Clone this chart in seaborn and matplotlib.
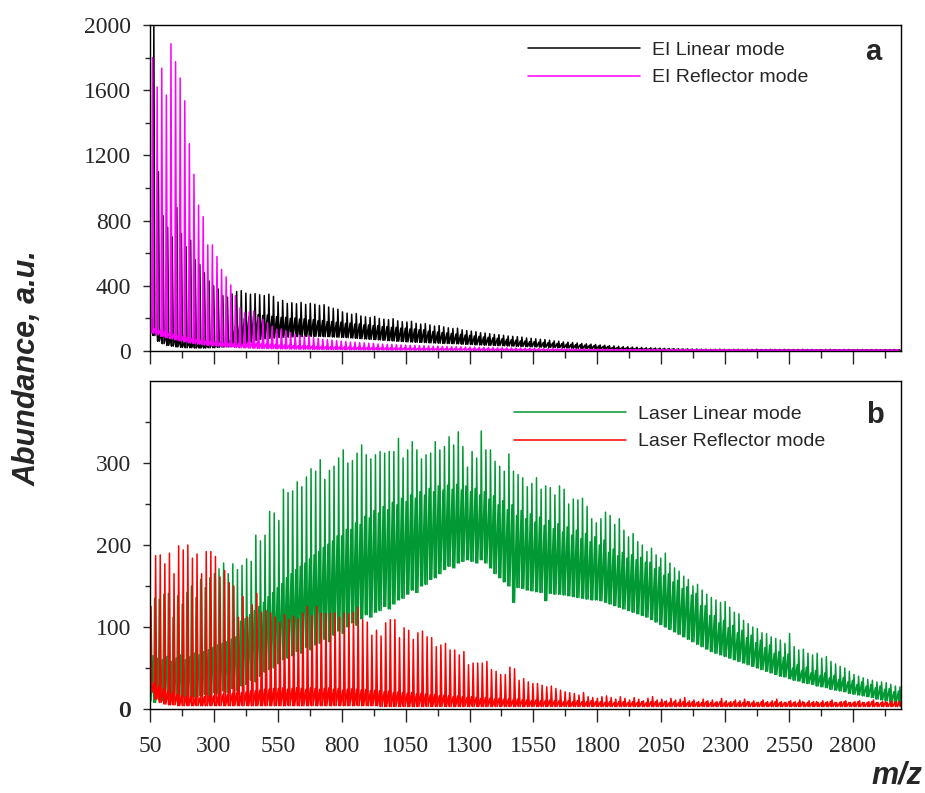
import matplotlib
matplotlib.use("Agg")
import matplotlib.pyplot as plt
import seaborn as sns

# Water cluster peaks, one value per cluster (spacing 18 m/z)
SPACING = 18

# Panel a - EI, linear mode (black)
ei_lin_first = 65
ei_lin_peak = [
    1990, 1100, 830, 760, 700, 880, 720, 640, 680, 560, 530, 480, 430, 400, 380, 340, 330, 350, 365, 370,
    355, 348, 352, 345, 340, 348, 335, 300, 310, 292, 296, 290, 298, 286, 292, 287, 280, 284, 270, 262,
    256, 240, 232, 225, 230, 215, 210, 206, 212, 200, 195, 192, 198, 185, 180, 178, 182, 170, 165, 168,
    160, 153, 156, 148, 142, 138, 140, 130, 125, 122, 118, 112, 110, 106, 102, 100, 96, 92, 90, 88,
    85, 80, 78, 74, 72, 70, 66, 62, 60, 56, 54, 52, 49, 46, 44, 42, 40, 37, 35, 33,
    31, 29, 27, 26, 24, 23, 22, 20, 19, 18, 17, 16, 15, 15, 14, 13, 13, 12, 12, 11,
    11, 10, 10, 11, 10, 9, 10, 10, 9, 10, 9, 10, 9, 9, 10, 9, 9, 10, 9, 9,
    9, 10, 9, 9, 8, 9, 9, 10, 9, 8, 9, 9, 8, 9, 9, 8, 9, 9, 8, 9,
    8, 9, 8]
ei_lin_mid = [
    200, 150, 120, 100, 90, 80, 70, 60, 55, 50, 45, 45, 45, 48, 50, 55, 60, 70, 150, 170,
    200, 210, 216, 222, 218, 220, 213, 211, 206, 207, 200, 202, 196, 197, 190, 192, 185, 187, 180, 181,
    176, 177, 170, 171, 165, 166, 160, 160, 155, 155, 150, 150, 145, 145, 140, 140, 135, 135, 130, 130,
    122, 120, 116, 114, 110, 108, 104, 102, 98, 96, 92, 90, 86, 84, 80, 78, 74, 72, 68, 66,
    62, 61, 58, 57, 54, 53, 50, 49, 46, 45, 42, 41, 39, 38, 36, 35, 33, 31, 29, 28,
    21, 20, 19, 18, 17, 16, 15, 14, 13, 13, 12, 12, 11, 11, 10, 10, 10, 9, 9, 9,
    8, 8, 8, 8, 8, 8, 8, 8, 8, 8, 8, 8, 8, 8, 8, 8, 8, 8, 8, 8,
    7, 7, 7, 7, 7, 7, 7, 7, 7, 7, 7, 7, 7, 7, 7, 7, 7, 7, 7, 7,
    7, 7, 7]
ei_lin_floor = [
    95, 60, 45, 35, 30, 25, 22, 20, 20, 18, 18, 18, 20, 20, 22, 24, 26, 28, 30, 35,
    45, 55, 65, 72, 75, 78, 80, 82, 84, 85, 86, 88, 88, 90, 90, 90, 90, 88, 88, 86,
    85, 84, 82, 80, 78, 76, 74, 72, 70, 68, 66, 64, 62, 60, 58, 56, 55, 54, 53, 52,
    50, 49, 48, 47, 46, 45, 44, 42, 41, 40, 38, 37, 36, 35, 34, 33, 32, 31, 30, 29,
    28, 27, 26, 25, 24, 23, 22, 21, 20, 19, 18, 17, 16, 15, 14, 13, 12, 12, 11, 11,
    10, 10, 9, 9, 8, 8, 8, 7, 7, 7, 6, 6, 6, 6, 5, 5, 5, 5, 5, 5,
    5, 5, 5, 5, 5, 5, 5, 5, 5, 5, 5, 5, 5, 5, 5, 5, 5, 5, 5, 5,
    4, 4, 4, 4, 4, 4, 4, 4, 4, 4, 4, 4, 4, 4, 4, 4, 4, 4, 4, 4,
    4, 4, 4]

# Panel a - EI, reflector mode (magenta)
ei_ref_first = 60
ei_ref_peak = [
    1800, 1620, 1735, 1570, 1885, 1775, 1675, 1535, 1272, 1084, 895, 824, 651, 651, 580, 500, 455, 405, 340, 265,
    234, 240, 245, 207, 194, 174, 153, 133, 135, 123, 113, 102, 96, 92, 94, 82, 78, 72, 70, 66,
    64, 60, 58, 55, 54, 51, 50, 48, 46, 43, 42, 41, 40, 38, 37, 36, 35, 34, 33, 32,
    31, 30, 30, 29, 28, 27, 27, 26, 25, 24, 24, 23, 22, 22, 21, 20, 20, 19, 19, 18,
    18, 17, 17, 16, 16, 15, 15, 15, 14, 14, 13, 13, 13, 12, 12, 12, 12, 11, 11, 11,
    11, 11, 10, 10, 10, 10, 10, 10, 9, 10, 9, 9, 10, 9, 9, 9, 9, 9, 8, 9,
    9, 8, 9, 8, 9, 8, 8, 9, 8, 8, 8, 9, 8, 8, 8, 8, 8, 8, 8, 8,
    8, 8, 7, 8, 8, 7, 8, 8, 7, 8, 7, 8, 7, 7, 8, 7, 7, 8, 7, 7,
    7, 7, 7]
ei_ref_mid = [
    150, 140, 130, 120, 112, 104, 96, 90, 84, 78, 72, 68, 64, 60, 56, 53, 50, 48, 46, 44,
    42, 48, 52, 50, 46, 44, 42, 40, 38, 36, 35, 34, 33, 32, 31, 30, 29, 28, 27, 26,
    25, 25, 24, 24, 23, 23, 22, 22, 21, 21, 20, 20, 19, 19, 18, 18, 17, 17, 16, 16,
    16, 15, 15, 15, 14, 14, 14, 13, 13, 13, 12, 12, 12, 12, 11, 11, 11, 11, 10, 10,
    10, 10, 10, 10, 9, 9, 9, 9, 9, 9, 9, 9, 8, 8, 8, 8, 8, 8, 8, 8,
    8, 8, 8, 8, 8, 8, 8, 7, 7, 7, 7, 7, 7, 7, 7, 7, 7, 7, 7, 7,
    7, 7, 7, 7, 7, 7, 7, 7, 7, 7, 6, 6, 6, 6, 6, 6, 6, 6, 6, 6,
    6, 6, 6, 6, 6, 6, 6, 6, 6, 6, 6, 6, 6, 6, 6, 6, 6, 6, 6, 6,
    6, 6, 6]
ei_ref_floor = [
    110, 100, 90, 82, 75, 68, 62, 56, 50, 46, 42, 38, 35, 32, 30, 28, 26, 24, 22, 20,
    19, 18, 17, 16, 15, 15, 14, 14, 13, 13, 12, 12, 11, 11, 11, 10, 10, 10, 9, 9,
    9, 9, 8, 8, 8, 8, 7, 7, 7, 7, 7, 6, 6, 6, 6, 6, 6, 5, 5, 5,
    5, 5, 5, 5, 5, 5, 5, 5, 5, 5, 4, 4, 4, 4, 4, 4, 4, 4, 4, 4,
    4, 4, 4, 4, 4, 4, 4, 4, 4, 4, 3, 3, 3, 3, 3, 3, 3, 3, 3, 3,
    3, 3, 3, 3, 3, 3, 3, 3, 3, 3, 3, 3, 3, 3, 3, 3, 3, 3, 3, 3,
    3, 3, 3, 3, 3, 3, 3, 3, 3, 3, 3, 3, 3, 3, 3, 3, 3, 3, 3, 3,
    3, 3, 3, 3, 3, 3, 3, 3, 3, 3, 3, 3, 3, 3, 3, 3, 3, 3, 3, 3,
    3, 3, 3]

# Panel b - laser, linear mode (green)
la_lin_first = 50
la_lin_peak = [
    143, 135, 134, 140, 141, 112, 138, 128, 142, 150, 136, 158, 148, 160, 165, 171, 178, 165, 177, 170,
    175, 183, 180, 212, 205, 212, 241, 239, 230, 268, 264, 266, 277, 271, 283, 293, 290, 304, 280, 291,
    296, 306, 316, 300, 303, 312, 322, 310, 305, 310, 314, 312, 314, 314, 330, 306, 316, 326, 316, 305,
    310, 312, 326, 316, 320, 332, 322, 338, 320, 295, 314, 306, 339, 316, 316, 302, 296, 290, 311, 290,
    286, 282, 271, 275, 282, 268, 272, 270, 261, 272, 268, 250, 256, 255, 257, 247, 232, 227, 232, 240,
    236, 225, 232, 218, 210, 214, 204, 200, 192, 196, 188, 184, 190, 178, 172, 168, 162, 158, 150, 152,
    145, 140, 136, 133, 130, 131, 124, 118, 116, 108, 104, 100, 98, 93, 92, 88, 86, 84, 80, 92,
    76, 72, 73, 68, 66, 68, 62, 64, 58, 55, 52, 50, 46, 42, 40, 38, 36, 35, 33, 33,
    32, 30, 28, 27]
la_lin_mid = [
    70, 65, 62, 60, 64, 58, 62, 66, 60, 64, 68, 66, 70, 72, 75, 78, 80, 82, 85, 88,
    107, 110, 115, 120, 125, 130, 137, 142, 148, 153, 160, 165, 170, 174, 178, 183, 188, 192, 197, 201,
    205, 211, 211, 219, 219, 227, 225, 235, 233, 242, 239, 247, 243, 252, 249, 257, 253, 261, 257, 265,
    261, 269, 265, 272, 267, 273, 268, 274, 267, 272, 265, 269, 261, 265, 256, 260, 249, 254, 243, 249,
    236, 242, 232, 238, 228, 234, 224, 230, 220, 226, 216, 222, 212, 218, 208, 214, 204, 210, 200, 206,
    191, 195, 187, 191, 184, 188, 182, 185, 179, 179, 171, 173, 163, 165, 155, 157, 147, 149, 139, 141,
    126, 126, 114, 114, 105, 108, 99, 102, 93, 96, 87, 90, 81, 84, 75, 78, 68, 70, 63, 67,
    50, 54, 47, 51, 44, 47, 41, 44, 38, 41, 36, 38, 33, 35, 30, 33, 28, 30, 26, 28,
    24, 25, 21, 22]
la_lin_floor = [
    10, 8, 12, 10, 15, 10, 12, 14, 12, 15, 14, 16, 18, 15, 20, 18, 22, 20, 25, 22,
    28, 30, 35, 33, 40, 45, 48, 50, 55, 60, 62, 65, 70, 68, 75, 72, 78, 80, 85, 82,
    90, 95, 92, 100, 105, 102, 110, 115, 112, 118, 120, 125, 122, 128, 133, 135, 140, 145, 142, 150,
    152, 158, 160, 165, 170, 174, 172, 178, 180, 182, 180, 178, 182, 178, 172, 165, 160, 155, 150, 130,
    148, 147, 145, 144, 143, 142, 132, 141, 140, 140, 139, 138, 137, 136, 135, 134, 133, 133, 132, 130,
    128, 126, 124, 122, 120, 118, 116, 114, 112, 109, 106, 103, 100, 97, 94, 91, 88, 85, 82, 79,
    76, 73, 70, 68, 66, 64, 62, 60, 58, 56, 54, 52, 50, 48, 46, 44, 42, 40, 39, 37,
    35, 34, 32, 31, 30, 28, 27, 26, 24, 23, 22, 21, 19, 18, 17, 16, 15, 14, 12, 11,
    10, 9, 8, 7]

# Panel b - laser, reflector mode (red)
la_ref_first = 54
la_ref_peak = [
    125, 187, 188, 177, 190, 165, 199, 194, 200, 184, 189, 165, 192, 192, 186, 161, 169, 154, 150, 112,
    137, 112, 127, 141, 118, 120, 117, 112, 106, 115, 109, 113, 110, 117, 125, 114, 125, 117, 116, 117,
    117, 112, 117, 116, 118, 124, 109, 106, 90, 96, 89, 105, 109, 109, 87, 99, 96, 85, 93, 95,
    88, 87, 76, 78, 80, 72, 72, 66, 70, 54, 56, 56, 56, 58, 48, 46, 42, 42, 51, 49,
    35, 37, 33, 31, 31, 29, 27, 28, 25, 23, 21, 20, 19, 17, 20, 15, 14, 13, 15, 16,
    14, 12, 15, 13, 11, 14, 12, 10, 13, 15, 11, 12, 10, 13, 11, 12, 14, 10, 11, 9,
    12, 10, 11, 9, 13, 10, 9, 11, 10, 12, 9, 10, 8, 11, 9, 10, 12, 9, 8, 10,
    9, 11, 8, 10, 9, 8, 10, 9, 11, 8, 9, 10, 8, 9, 10, 8, 9, 11, 8, 9,
    8, 10, 9, 8]
la_ref_mid = [
    40, 32, 28, 25, 22, 20, 18, 16, 15, 15, 14, 14, 15, 16, 16, 17, 18, 18, 19, 20,
    20, 21, 22, 22, 23, 24, 24, 25, 25, 26, 24, 25, 26, 25, 24, 26, 25, 24, 25, 26,
    24, 25, 23, 24, 25, 24, 23, 24, 22, 23, 22, 21, 22, 20, 21, 20, 19, 20, 18, 19,
    18, 17, 18, 16, 17, 16, 15, 16, 15, 14, 15, 14, 13, 14, 13, 12, 13, 12, 12, 11,
    12, 11, 11, 10, 11, 10, 10, 11, 10, 10, 9, 10, 9, 10, 9, 9, 10, 9, 9, 8,
    9, 8, 9, 9, 8, 9, 8, 9, 8, 9, 9, 8, 9, 8, 9, 8, 9, 8, 9, 8,
    8, 9, 8, 8, 9, 8, 8, 9, 8, 8, 9, 8, 8, 9, 8, 8, 9, 8, 8, 9,
    8, 8, 9, 8, 8, 9, 8, 8, 9, 8, 8, 9, 8, 8, 9, 8, 8, 9, 8, 8,
    9, 8, 8, 9]
la_ref_floor = [
    20, 12, 8, 6, 5, 5, 4, 4, 4, 4, 4, 4, 4, 4, 4, 4, 4, 4, 4, 4,
    4, 4, 4, 4, 4, 4, 4, 4, 4, 4, 4, 4, 4, 4, 4, 4, 4, 4, 4, 4,
    4, 4, 4, 4, 4, 4, 4, 4, 4, 4, 3, 3, 3, 3, 3, 3, 3, 3, 3, 3,
    3, 3, 3, 3, 3, 3, 3, 3, 3, 3, 3, 3, 3, 3, 3, 3, 3, 3, 3, 3,
    3, 3, 3, 3, 3, 3, 3, 3, 3, 3, 3, 3, 3, 3, 3, 3, 3, 3, 3, 3,
    3, 3, 3, 3, 3, 3, 3, 3, 3, 3, 3, 3, 3, 3, 3, 3, 3, 3, 3, 3,
    3, 3, 3, 3, 3, 3, 3, 3, 3, 3, 3, 3, 3, 3, 3, 3, 3, 3, 3, 3,
    3, 3, 3, 3, 3, 3, 3, 3, 3, 3, 3, 3, 3, 3, 3, 3, 3, 3, 3, 3,
    3, 3, 3, 3]

x_major = [50, 300, 550, 800, 1050, 1300, 1550, 1800, 2050, 2300, 2550, 2800]
x_minor = [175, 425, 675, 925, 1175, 1425, 1675, 1925, 2175, 2425, 2675, 2925]


def spectrum_xy(first_mz, peak, mid, floor):
    # each cluster: noise bump, valley, main peak, valley
    n = min(len(peak), len(mid), len(floor))
    xs, ys = [], []
    for k in range(n):
        m = first_mz + SPACING * k
        xs += [m - 6, m - 3, m, m + 4]
        ys += [mid[k], floor[k], peak[k], floor[k]]
    return xs, ys


sns.set_style("ticks")
plt.rcParams['font.family'] = ['Liberation Serif', 'DejaVu Serif']
plt.rcParams['axes.linewidth'] = 1.0

fig = plt.figure(figsize=(9.25, 7.93), dpi=100)
ax_a = fig.add_axes([150 / 925, 1 - 351 / 793, 751 / 925, 326 / 793])
ax_b = fig.add_axes([150 / 925, 1 - 709 / 793, 751 / 925, 328 / 793])

sans = 'Liberation Sans'
LW = 1.1

# Panel a
x, y = spectrum_xy(ei_lin_first, ei_lin_peak, ei_lin_mid, ei_lin_floor)
sns.lineplot(x=x, y=y, sort=False, estimator=None, color='black', lw=LW, ax=ax_a, label='EI Linear mode')
x, y = spectrum_xy(ei_ref_first, ei_ref_peak, ei_ref_mid, ei_ref_floor)
sns.lineplot(x=x, y=y, sort=False, estimator=None, color='#ff00ff', lw=LW, ax=ax_a, label='EI Reflector mode')

# Panel b
x, y = spectrum_xy(la_lin_first, la_lin_peak, la_lin_mid, la_lin_floor)
sns.lineplot(x=x, y=y, sort=False, estimator=None, color='#009933', lw=LW, ax=ax_b, label='Laser Linear mode')
x, y = spectrum_xy(la_ref_first, la_ref_peak, la_ref_mid, la_ref_floor)
sns.lineplot(x=x, y=y, sort=False, estimator=None, color='#ff0000', lw=LW, ax=ax_b, label='Laser Reflector mode')

for ax in (ax_a, ax_b):
    ax.set_xlim(50, 2988)
    ax.set_xticks(x_major)
    ax.set_xticks(x_minor, minor=True)
    ax.set_xlabel('')
    ax.set_ylabel('')
    for s in ax.spines.values():
        s.set_visible(True)
        s.set_color('black')
    ax.tick_params(axis='x', which='major', direction='out', length=9.5, width=1.0, pad=10, labelsize=17)
    ax.tick_params(axis='x', which='minor', direction='out', length=5, width=1.0)
    ax.tick_params(axis='y', which='major', direction='out', length=5, width=1.0, pad=8.5, labelsize=17)
    ax.tick_params(axis='y', which='minor', direction='out', length=3.5, width=1.0)

ax_a.set_ylim(0, 2000)
ax_a.set_yticks([0, 400, 800, 1200, 1600, 2000])
ax_a.set_yticks([200, 600, 1000, 1400, 1800], minor=True)
ax_a.tick_params(axis='x', labelbottom=False)

ax_b.set_ylim(0, 400)
ax_b.set_yticks([0, 100, 200, 300])
ax_b.set_yticks([50, 150, 250, 350], minor=True)
# doubled zero seen in the original
ax_b.annotate('0', xy=(0, 0), xycoords='axes fraction', xytext=(-14.6, -1.5), textcoords='offset points',
              ha='right', va='center', fontsize=17)

leg_kw = dict(frameon=False, borderpad=0, borderaxespad=0, handlelength=5.76, handletextpad=0.62,
              labelspacing=0.49, prop={'family': sans, 'size': 14})
ax_a.legend(loc='upper left', bbox_to_anchor=(0.503, 0.949), **leg_kw)
ax_b.legend(loc='upper left', bbox_to_anchor=(0.485, 0.925), **leg_kw)

ax_a.text(0.963, 0.917, 'a', transform=ax_a.transAxes, ha='center', va='center',
          fontsize=21, fontweight='bold', family=sans)
ax_b.text(0.965, 0.896, 'b', transform=ax_b.transAxes, ha='center', va='center',
          fontsize=21, fontweight='bold', family=sans)

fig.text(27.5 / 925, 1 - 368 / 793, 'Abundance, a.u.', rotation=90, ha='center', va='center',
         fontsize=22, fontweight='bold', fontstyle='italic', family=sans)
fig.text(897 / 925, 1 - 776 / 793, 'm/z', ha='center', va='center',
         fontsize=22, fontweight='bold', fontstyle='italic', family=sans)

fig.savefig('out.png', dpi=100)
